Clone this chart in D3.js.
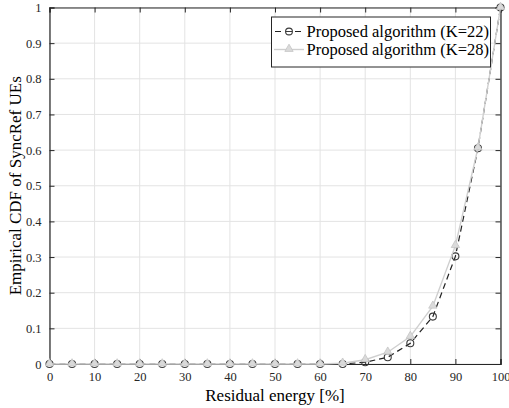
<!DOCTYPE html>
<html><head><meta charset="utf-8">
<script src="https://cdn.jsdelivr.net/npm/d3@7"></script>
<style>body{margin:0;background:#fff}svg{display:block}
svg text{font-family:"Liberation Serif","DejaVu Serif",serif !important;}</style>
</head><body>
<script>
const xValues = [0,5,10,15,20,25,30,35,40,45,50,55,60,65,70,75,80,85,90,95,100];
const seriesK22 = [0,0,0,0,0,0,0,0,0,0,0,0,0,0,0.005,0.019,0.058,0.133,0.302,0.605,1];
const seriesK28 = [0,0,0,0,0,0,0,0,0,0,0,0,0,0.002,0.012,0.033,0.077,0.162,0.332,0.606,1];
const seriesNames = ["Proposed algorithm (K=22)","Proposed algorithm (K=28)"];
const xTicks = [0,10,20,30,40,50,60,70,80,90,100];
const yTicks = [0,0.1,0.2,0.3,0.4,0.5,0.6,0.7,0.8,0.9,1];
const xLabel = "Residual energy [%]";
const yLabel = "Empirical CDF of SyncRef UEs";

const W=509,H=408;
const L=49.5,R=500.5,T=7.5,B=364;
const svg=d3.select("body").append("svg").attr("width",W).attr("height",H);
const x=d3.scaleLinear().domain([0,100]).range([L,R]);
const y=d3.scaleLinear().domain([0,1]).range([B,T]);
const axisCol="#262626";

const g=svg.append("g");
g.selectAll(".gx").data(xTicks).enter().append("line")
 .attr("x1",d=>x(d)).attr("x2",d=>x(d)).attr("y1",T).attr("y2",B)
 .attr("stroke","#e3e3e3").attr("stroke-width",1);
g.selectAll(".gy").data(yTicks).enter().append("line")
 .attr("y1",d=>y(d)).attr("y2",d=>y(d)).attr("x1",L).attr("x2",R)
 .attr("stroke","#e3e3e3").attr("stroke-width",1);

const tl=5;
const xa=svg.append("g").attr("transform",`translate(0,${B})`)
 .call(d3.axisBottom(x).tickValues(xTicks).tickSize(-tl).tickPadding(tl+3).tickFormat(d3.format("d")));
const xt=svg.append("g").attr("transform",`translate(0,${T})`)
 .call(d3.axisTop(x).tickValues(xTicks).tickSize(-tl).tickFormat(""));
const ya=svg.append("g").attr("transform",`translate(${L},0)`)
 .call(d3.axisLeft(y).tickValues(yTicks).tickSize(-tl).tickPadding(tl+3).tickFormat(d=>d===0?"0":d===1?"1":d3.format(".1f")(d)));
const yr=svg.append("g").attr("transform",`translate(${R},0)`)
 .call(d3.axisRight(y).tickValues(yTicks).tickSize(-tl).tickFormat(""));
[xa,xt,ya,yr].forEach(a=>{
  a.attr("font-family",null);
  a.selectAll("path").attr("stroke",axisCol).attr("stroke-width",1.2);
  a.selectAll("line").attr("stroke",axisCol).attr("stroke-width",1);
  a.selectAll("text").attr("fill",axisCol).style("font-size","12.5px");
});
xa.selectAll("text").attr("dy","0.71em");

const pts22=xValues.map((v,i)=>[v,seriesK22[i]]);
const pts28=xValues.map((v,i)=>[v,seriesK28[i]]);
const line=d3.line().x(d=>x(d[0])).y(d=>y(d[1]));
const c28="#cfcfcf";
const tri=d3.symbol().type(d3.symbolTriangle).size(30);

// K=22 first (below)
svg.append("path").datum(pts22).attr("d",line).attr("fill","none").attr("stroke","#222").attr("stroke-width",1.2).attr("stroke-dasharray","6,4");
svg.selectAll(".c22").data(pts22).enter().append("circle")
 .attr("cx",d=>x(d[0])).attr("cy",d=>y(d[1])).attr("r",3.5)
 .attr("fill","none").attr("stroke","#3a3a3a").attr("stroke-width",1.1);

// K=28 on top
svg.append("path").datum(pts28).attr("d",line).attr("fill","none").attr("stroke",c28).attr("stroke-width",1.4);
svg.selectAll(".t28").data(pts28).enter().append("path")
 .attr("d",tri).attr("transform",d=>`translate(${x(d[0])},${y(d[1])-0.5})`)
 .attr("fill","#dadada").attr("stroke","#c4c4c4").attr("stroke-width",0.8);

const lg=svg.append("g");
lg.append("rect").attr("x",271.5).attr("y",17).attr("width",219).attr("height",50)
 .attr("fill","#fff").attr("stroke",axisCol).attr("stroke-width",1);
const rows=[31.5,49.5];
lg.append("line").attr("x1",274).attr("x2",304).attr("y1",rows[0]).attr("y2",rows[0])
 .attr("stroke","#222").attr("stroke-width",1.2).attr("stroke-dasharray","6,4").attr("stroke-dashoffset",-1);
lg.append("circle").attr("cx",289).attr("cy",rows[0]).attr("r",3.4).attr("fill","#fff").attr("stroke","#3a3a3a").attr("stroke-width",1.1);
lg.append("line").attr("x1",286).attr("x2",292).attr("y1",rows[0]).attr("y2",rows[0]).attr("stroke","#3a3a3a");
lg.append("line").attr("x1",274).attr("x2",304).attr("y1",rows[1]).attr("y2",rows[1]).attr("stroke",c28).attr("stroke-width",1.4);
lg.append("path").attr("d",tri).attr("transform",`translate(289,${rows[1]-0.5})`).attr("fill","#dadada").attr("stroke","#c4c4c4").attr("stroke-width",0.8);
lg.selectAll(".lt").data(seriesNames).enter().append("text")
 .attr("x",306.5).attr("y",(d,i)=>rows[i]).attr("dy","0.35em")
 .style("font-size","16.5px").attr("fill","#000").text(d=>d);

svg.append("text").attr("x",(L+R)/2).attr("y",401).attr("text-anchor","middle")
 .style("font-size","17px").attr("fill","#000").text(xLabel);
svg.append("text").attr("transform",`translate(21,${(T+B)/2}) rotate(-90)`).attr("text-anchor","middle")
 .style("font-size","17px").attr("fill","#000").text(yLabel);
</script>
</body></html>
